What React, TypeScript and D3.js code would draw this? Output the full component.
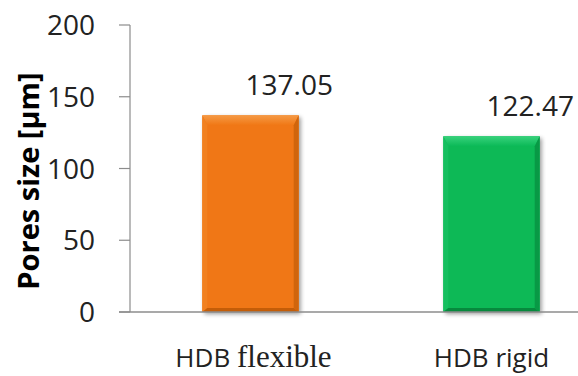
import React from "react";
import * as d3 from "d3";

const categories = ["HDB flexible", "HDB rigid"];
const values = [137.05, 122.47];
const valueLabels = ["137.05", "122.47"];
const yTicks = [0, 50, 100, 150, 200];
const barColors = [
  { main: "#F07714", light: "#F59A45", side: "#F1801F", dark: "#D0650C", bottom: "#C45D08" },
  { main: "#0BB957", light: "#38D27C", side: "#15BF5F", dark: "#089945", bottom: "#07893D" },
];

const W = 578;
const H = 376;
const left = 130;
const rightEdge = 612;
const top = 25;
const bottom = 312;

export default function App() {
  const x = d3.scaleBand<string>().domain(categories).range([left, rightEdge]).paddingInner(0.6).paddingOuter(0.3);
  const y = d3.scaleLinear().domain([0, 200]).range([bottom, top]);
  const sans = "'Open Sans', 'Noto Sans', sans-serif";
  const serif = "'Liberation Serif', 'Times New Roman', serif";
  const bw = x.bandwidth();

  return (
    <svg width={W} height={H} style={{ position: "absolute", left: 0, top: 0, background: "#fff" }}>
      <defs>
        <filter id="shadow" x="-20%" y="-10%" width="140%" height="130%">
          <feGaussianBlur in="SourceAlpha" stdDeviation="2" />
          <feOffset dx="2" dy="2" result="b" />
          <feComponentTransfer>
            <feFuncA type="linear" slope="0.4" />
          </feComponentTransfer>
          <feMerge>
            <feMergeNode />
            <feMergeNode in="SourceGraphic" />
          </feMerge>
        </filter>
        {barColors.map((col, i) => (
          <linearGradient key={i} id={`topg${i}`} x1="0" y1="0" x2="0" y2="1">
            <stop offset="0%" stopColor={col.light} />
            <stop offset="100%" stopColor={col.main} />
          </linearGradient>
        ))}
      </defs>
      {/* y axis */}
      <line x1={left} x2={left} y1={y(200)} y2={y(0)} stroke="#8c8c8c" strokeWidth={1.2} />
      {yTicks.map((t) => (
        <g key={t}>
          <line x1={left - 11} x2={left} y1={y(t)} y2={y(t)} stroke="#8c8c8c" strokeWidth={1.2} />
          <text x={left - 35} y={y(t)} dy="0.36em" textAnchor="end" fontFamily={sans} fontSize={28} fill="#222">
            {t}
          </text>
        </g>
      ))}
      {/* bars */}
      {categories.map((c, i) => {
        const x0 = x(c)!;
        const y0 = y(values[i]);
        const h = bottom - y0;
        const col = barColors[i];
        const bt = 10;
        const bs = 5;
        const bb = 4;
        return (
          <g key={c}>
            <g filter="url(#shadow)">
              <rect x={x0} y={y0} width={bw} height={h} fill={col.main} />
            </g>
            <polygon
              points={`${x0},${y0} ${x0 + bw},${y0} ${x0 + bw - bs},${y0 + bt} ${x0 + bs},${y0 + bt}`}
              fill={`url(#topg${i})`}
            />
            <polygon
              points={`${x0},${y0} ${x0 + bs},${y0 + bt} ${x0 + bs},${bottom - bb} ${x0},${bottom}`}
              fill={col.side}
            />
            <polygon
              points={`${x0 + bw},${y0} ${x0 + bw - bs},${y0 + bt} ${x0 + bw - bs},${bottom - bb} ${x0 + bw},${bottom}`}
              fill={col.dark}
            />
            <polygon
              points={`${x0},${bottom} ${x0 + bs},${bottom - bb} ${x0 + bw - bs},${bottom - bb} ${x0 + bw},${bottom}`}
              fill={col.bottom}
            />
            <text x={x0 + bw / 2 - 5} y={y0 - 20} fontFamily={sans} fontSize={28} fill="#222">
              {valueLabels[i]}
            </text>
          </g>
        );
      })}
      {/* x axis */}
      <line x1={left - 11} x2={rightEdge} y1={bottom} y2={bottom} stroke="#8c8c8c" strokeWidth={1.5} />
      {/* x labels */}
      <text x={x(categories[0])! + bw / 2 + 3} y={367} textAnchor="middle" fontSize={26} fill="#222">
        <tspan fontFamily={sans}>HDB </tspan>
        <tspan fontFamily={serif} fontSize={31}>flexible</tspan>
      </text>
      <text x={x(categories[1])! + bw / 2} y={367} textAnchor="middle" fontFamily={sans} fontSize={26} fill="#222">
        {categories[1]}
      </text>
      {/* y title */}
      <text
        transform={`translate(39, 181) rotate(-90)`}
        textAnchor="middle"
        fontFamily={sans}
        fontWeight="bold"
        fontSize={29}
        fill="#000"
      >
        Pores size [μm]
      </text>
    </svg>
  );
}
